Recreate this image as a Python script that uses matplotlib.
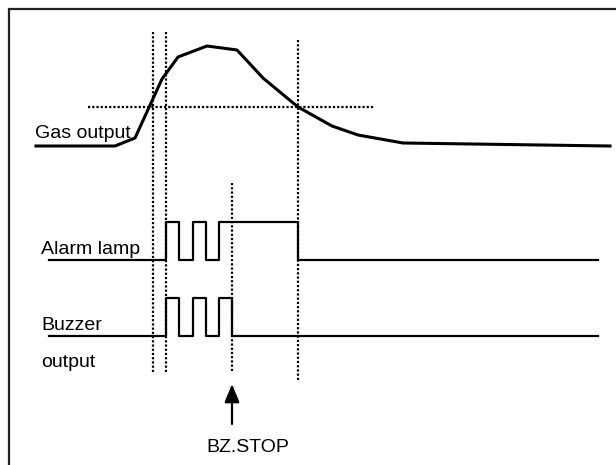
import matplotlib
matplotlib.use("Agg")
import matplotlib.pyplot as plt

plt.rcParams['font.family'] = ['Liberation Sans', 'DejaVu Sans']

# Gas sensor output trace (time, level; screen units, y grows downward)
gas_t = [36, 115, 135, 162, 178, 207, 237, 263, 298, 332, 358, 403, 610]
gas_y = [146, 146, 138, 79, 57, 46, 50, 78, 107, 126, 135, 143, 146]

# Alarm lamp on/off edges
lamp_t = [49, 166, 179, 193, 206, 219, 298, 598]
lamp_state = [0, 1, 0, 1, 0, 1, 0, 0]

# Buzzer on/off edges (stopped by BZ.STOP)
buzzer_t = [49, 166, 179, 193, 206, 219, 232, 598]
buzzer_state = [0, 1, 0, 1, 0, 1, 0, 0]

# Event markers: (x, top, bottom)
markers = [(153, 32, 373), (166, 32, 373), (232, 183, 373), (298, 40, 382)]
alarm_level = 107.5
alarm_span = (88, 374)
bz_stop_t = 232

lamp_levels = (260, 222)
buzzer_levels = (336, 298)

fig = plt.figure(figsize=(6.16, 4.65), dpi=100)
ax = fig.add_axes([0, 0, 1, 1])
ax.set_xlim(0, 616)
ax.set_ylim(465, 0)
ax.axis('off')

# outer frame (left and top edges)
ax.plot([9, 9, 640], [480, 9, 9], color='#222222', lw=1.6, solid_joinstyle='miter')

dot = (0, (1, 0.9))
for x, y0, y1 in markers:
    ax.plot([x, x], [y0, y1], color='black', lw=1.6, linestyle=dot)
ax.plot(alarm_span, [alarm_level, alarm_level], color='black', lw=1.6, linestyle=dot)

ax.plot(gas_t, gas_y, color='black', lw=2.2, solid_joinstyle='round')

lamp_y = [lamp_levels[s] for s in lamp_state]
ax.step(lamp_t, lamp_y, where='post', color='black', lw=1.6)
buzzer_y = [buzzer_levels[s] for s in buzzer_state]
ax.step(buzzer_t, buzzer_y, where='post', color='black', lw=1.6)

ax.annotate('', xy=(bz_stop_t, 384), xytext=(bz_stop_t, 424),
            arrowprops=dict(arrowstyle='-|>,head_length=1.1,head_width=0.45',
                            color='black', lw=1.6, shrinkA=0, shrinkB=0))

fs = 14
ax.text(35, 137.5, 'Gas output', fontsize=fs, va='baseline', ha='left')
ax.text(41, 253.5, 'Alarm lamp', fontsize=fs, va='baseline', ha='left')
ax.text(41, 330, 'Buzzer', fontsize=fs, va='baseline', ha='left')
ax.text(41, 367, 'output', fontsize=fs, va='baseline', ha='left')
ax.text(248, 451.5, 'BZ.STOP', fontsize=fs, va='baseline', ha='center')

fig.savefig('out.png', dpi=100)
